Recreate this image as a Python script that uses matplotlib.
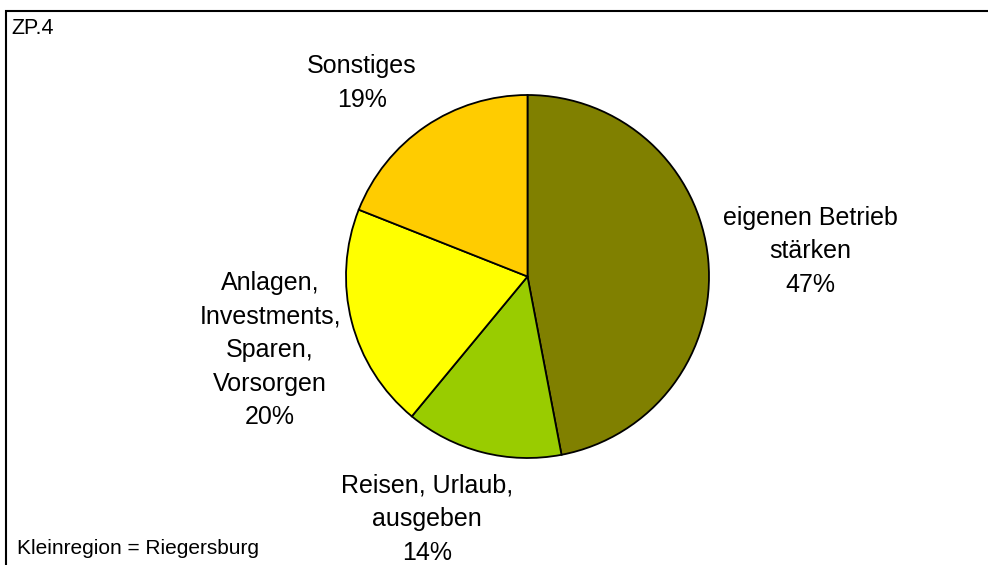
import matplotlib.pyplot as plt
from matplotlib.patches import Rectangle

plt.rcParams['font.family'] = ['Liberation Sans', 'DejaVu Sans']

# shares of the answers (in %), clockwise from 12 o'clock
labels = ['eigenen Betrieb\nstärken', 'Reisen, Urlaub,\nausgeben',
          'Anlagen,\nInvestments,\nSparen,\nVorsorgen', 'Sonstiges']
shares = [47, 14, 20, 19]
colors = ['#808000', '#99CC00', '#FFFF00', '#FFCC00']

# label centres in pixel space (x, y from top)
label_pos = [(810, 251), (427, 519), (270, 350), (362, 83)]

W, H = 988, 565
fig = plt.figure(figsize=(W / 100, H / 100), dpi=100)
ax = fig.add_axes([0, 0, 1, 1])

cx, cy, r = 527.5, 276.5, 181.5
ax.pie(shares, colors=colors, startangle=90, counterclock=False,
       center=(cx, H - cy), radius=r,
       wedgeprops=dict(edgecolor='black', linewidth=1.3))

for lab, val, (px, py) in zip(labels, shares, label_pos):
    ax.text(px, H - py, f'{lab}\n{val}%', ha='center', va='center',
            fontsize=18, linespacing=1.5)

ax.set_xlim(0, W)
ax.set_ylim(0, H)
ax.set_aspect('equal')
ax.axis('off')

# outer frame (right and bottom edge lie outside the canvas)
ax.add_patch(Rectangle((6, -20), W + 20, H - 11 + 20, fill=False,
                       edgecolor='black', linewidth=1.5, clip_on=False))

ax.text(11, H - 28, 'ZP.4', fontsize=15.5, va='center', ha='left')
ax.text(17, H - 548, 'Kleinregion = Riegersburg', fontsize=15,
        va='center', ha='left')

fig.savefig('out.png', dpi=100)
